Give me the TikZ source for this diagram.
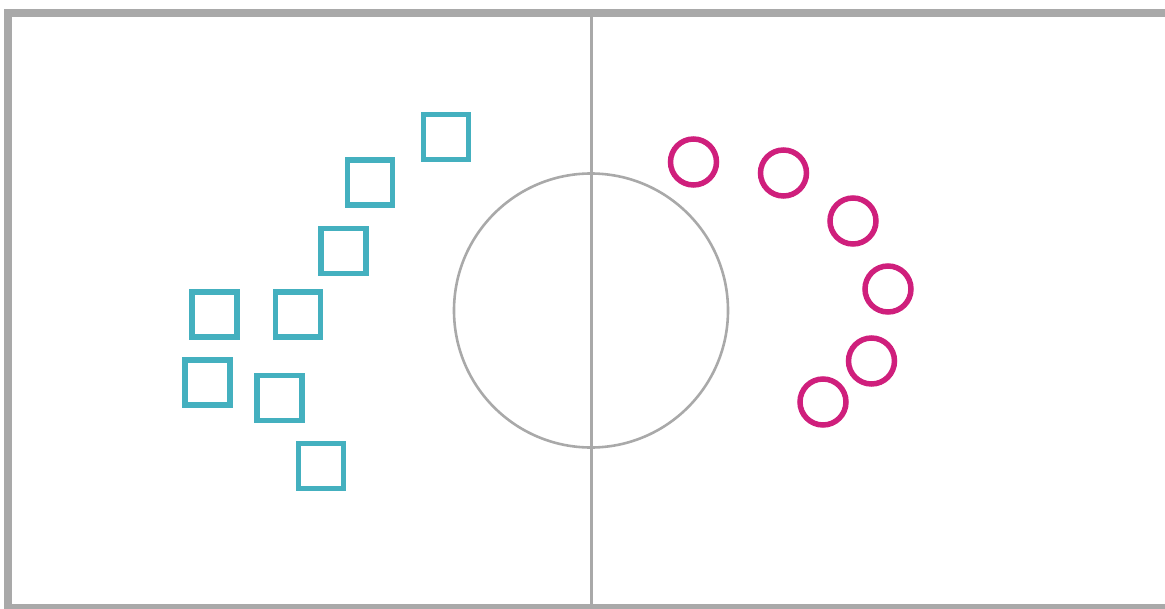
\documentclass[tikz,border=0pt]{standalone}
\usepackage{tikz}
\usepackage{xcolor}
\usetikzlibrary{positioning}
\definecolor{Pitch}{HTML}{A9A9A9}
\definecolor{Teal}{HTML}{44B0BF}
\definecolor{Berry}{HTML}{CF1F7C}
\tikzset{
  pitchline/.style={draw=Pitch,line width=8pt},
  midline/.style={draw=Pitch,line width=3pt},
  ring/.style={draw=Pitch,line width=2.6pt,circle,inner sep=0pt,minimum size=274pt},
  attacker/.style={draw=Teal,line width=5.5pt,rectangle,inner sep=0pt,minimum size=45pt},
  defender/.style={draw=Berry,line width=5.5pt,circle,inner sep=0pt,minimum size=46pt}
}
\begin{document}
\begin{tikzpicture}[x=1pt,y=-1pt]
  \useasboundingbox (0,0) rectangle (1165,608);
  \clip (0,0) rectangle (1165,608);
  % pitch
  \draw[pitchline] (8,13) rectangle (1180,608);
  \coordinate (top) at (591,13);
  \coordinate (bottom) at (591,608);
  \draw[midline] (top) -- (bottom);
  \node[ring] (centre) at (591,310.5) {};
  % squares
  \node[attacker] (sq1) at (446,137) {};
  \node[attacker] (sq2) at (370,182.5) {};
  \node[attacker] (sq3) at (343.5,251) {};
  \node[attacker] (sq4) at (214.5,314.5) {};
  \node[attacker] (sq5) at (298,314.5) {};
  \node[attacker] (sq6) at (207.5,382.5) {};
  \node[attacker] (sq7) at (279.5,398) {};
  \node[attacker] (sq8) at (321,466) {};
  % circles
  \node[defender] (c1) at (693.5,162) {};
  \node[defender] (c2) at (783.5,173) {};
  \node[defender] (c3) at (853,221) {};
  \node[defender] (c4) at (888,289) {};
  \node[defender] (c5) at (871.5,361) {};
  \node[defender] (c6) at (823,402) {};
\end{tikzpicture}
\end{document}
